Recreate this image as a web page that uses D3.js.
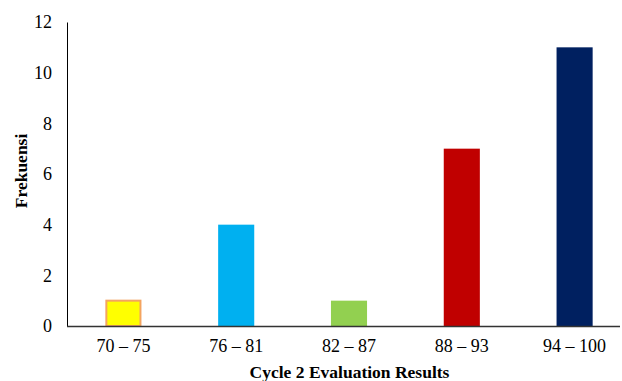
<!DOCTYPE html>
<html><head><meta charset="utf-8">
<script src="https://cdn.jsdelivr.net/npm/d3@7"></script>
<style>body{margin:0;background:#fff}svg{display:block}svg text{font-family:"Liberation Serif","Times New Roman",serif !important}</style>
</head><body><svg id="c" width="622" height="381"></svg>
<script>
const categories = ["70 – 75","76 – 81","82 – 87","88 – 93","94 – 100"];
const values = [1,4,1,7,11];
const colors = ["#FFFF00","#00B0F0","#92D050","#C00000","#002060"];
const strokes = ["#F4A460",null,null,null,null];
const yTicks = [0,2,4,6,8,10,12];

const svg = d3.select("#c");
const x = d3.scaleBand().domain(categories).range([67,631]).paddingInner(0.68).paddingOuter(0.34);
const y = d3.scaleLinear().domain([0,12]).range([326,22]);

svg.selectAll("rect.bar").data(values).join("rect")
  .attr("class","bar")
  .attr("x",(d,i)=>x(categories[i]) + (strokes[i]?1:0))
  .attr("y",d=>y(d))
  .attr("width",(d,i)=>x.bandwidth() - (strokes[i]?2:0))
  .attr("height",d=>y(0)-y(d))
  .attr("fill",(d,i)=>colors[i])
  .attr("stroke",(d,i)=>strokes[i]||"none")
  .attr("stroke-width",2);

const ya = d3.axisLeft(y).tickValues(yTicks).tickSize(0).tickPadding(15);
const gy = svg.append("g").attr("transform","translate(67,0)").call(ya);
gy.attr("font-family",null);
gy.select(".domain").attr("stroke","#000").attr("stroke-width",1);
gy.selectAll("text").attr("font-size",18).attr("fill","#000");

const xa = d3.axisBottom(x).tickSize(0).tickPadding(13);
const gx = svg.append("g").attr("transform","translate(0,326)").call(xa);
gx.attr("font-family",null);
gx.select(".domain").remove();
gx.selectAll("text").attr("font-size",18).attr("fill","#000");
svg.append("line").attr("x1",67).attr("x2",620).attr("y1",326.5).attr("y2",326.5).attr("stroke","#333").attr("stroke-width",1.5);

svg.append("text").attr("x",349.5).attr("y",378).attr("text-anchor","middle")
  .attr("font-size",17.5).attr("font-weight","bold").text("Cycle 2 Evaluation Results");
svg.append("text").attr("transform","translate(27,171) rotate(-90)").attr("text-anchor","middle")
  .attr("font-size",17.5).attr("font-weight","bold").text("Frekuensi");
</script></body></html>
